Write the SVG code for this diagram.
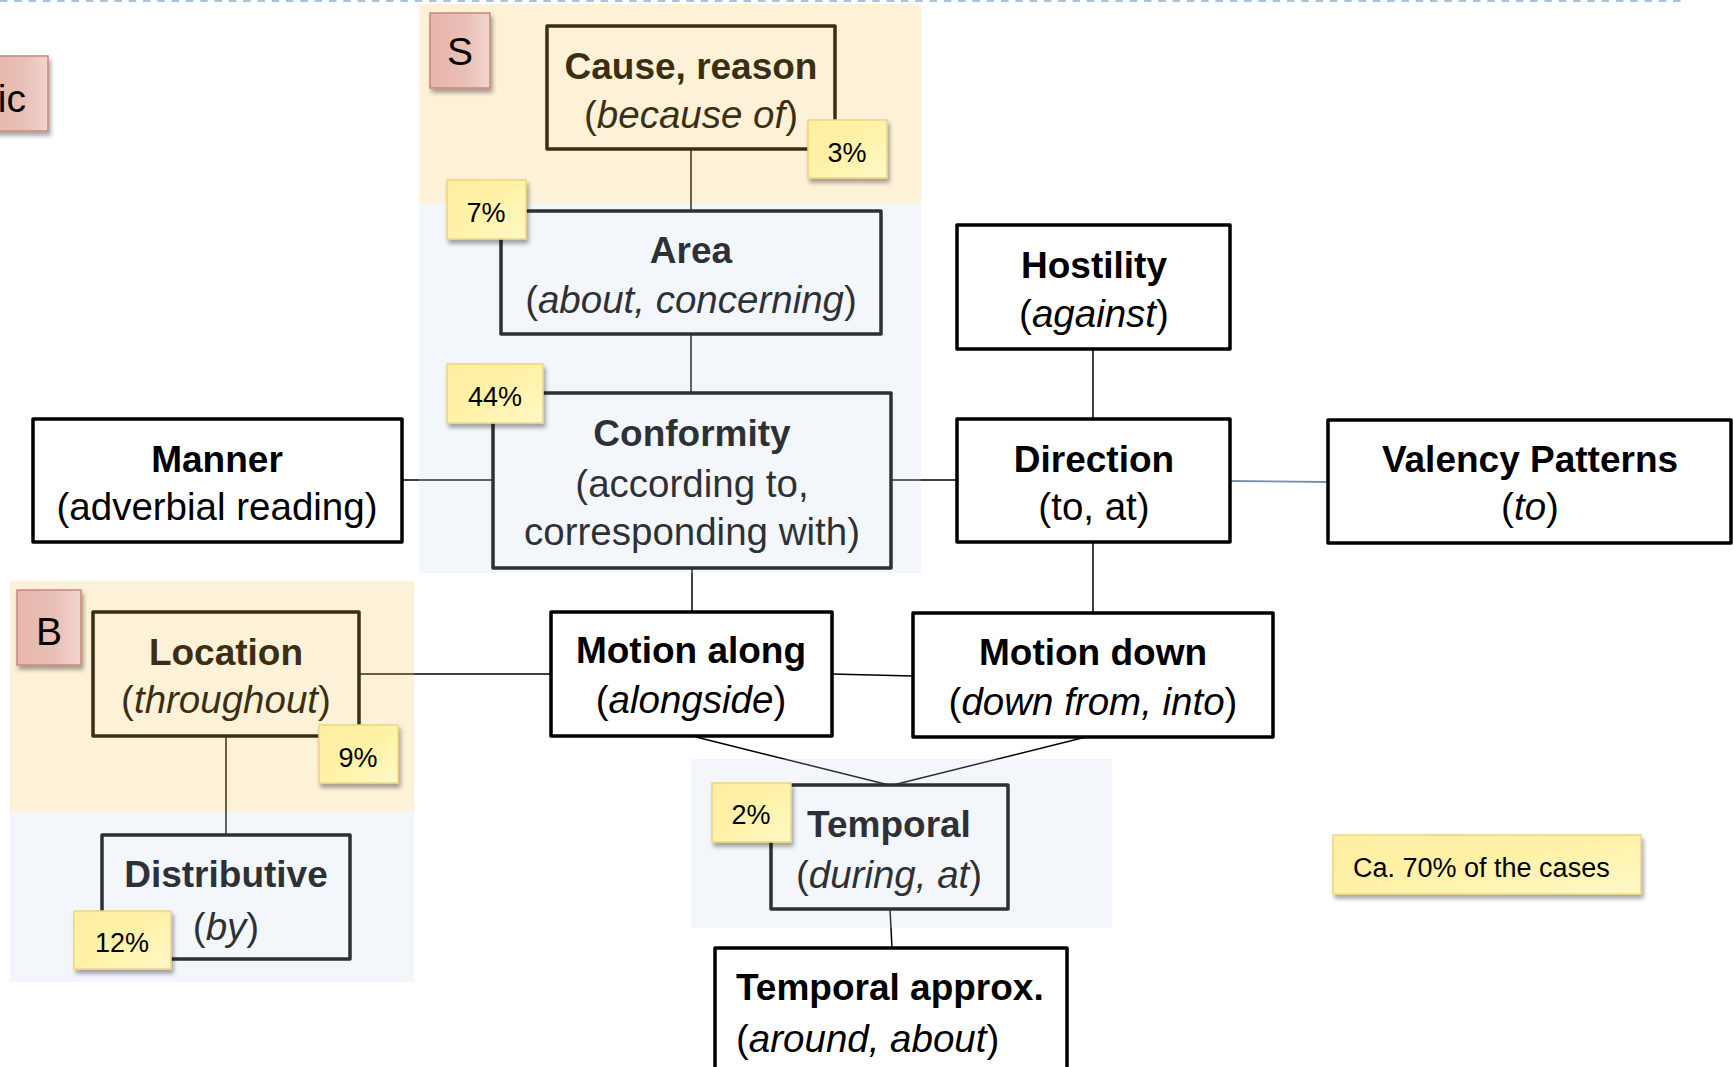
<svg xmlns="http://www.w3.org/2000/svg" width="1733" height="1067" viewBox="0 0 1733 1067">
  <defs>
    <style>
      .box { fill: #ffffff; stroke: #000000; stroke-width: 3.5; stroke-linejoin: round; }
      .edge { stroke: #000000; stroke-width: 1.5; fill: none; }
      .edge-blue { stroke: #7d8cab; stroke-width: 1.8; fill: none; }
      text { font-family: "Liberation Sans", Arial, sans-serif; fill: #000000; }
      .title { font-size: 37px; font-weight: bold; text-anchor: middle; }
      .sub { font-size: 38.5px; text-anchor: middle; }
      .it { font-style: italic; }
      .band-y { fill: #f7c855; fill-opacity: 0.235; }
      .band-b { fill: #c9dbed; fill-opacity: 0.224; }
      .note { fill: url(#noteFill); stroke: #f2d47c; stroke-width: 1.5; filter: url(#shadow); }
      .note-t { font-size: 27px; text-anchor: middle; }
      .tag { fill: url(#tagFill); stroke: #c7877c; stroke-width: 1.5; filter: url(#shadow); }
      .tag-t { font-size: 39px; text-anchor: middle; }
    </style>
    <linearGradient id="noteFill" x1="0" y1="0" x2="1" y2="1">
      <stop offset="0" stop-color="#fdf0a2"/>
      <stop offset="0.5" stop-color="#fff2a8"/>
      <stop offset="1" stop-color="#fff8c8"/>
    </linearGradient>
    <linearGradient id="tagFill" x1="0" y1="0" x2="1" y2="0">
      <stop offset="0" stop-color="#e6b6ac"/>
      <stop offset="0.6" stop-color="#e9c0b7"/>
      <stop offset="1" stop-color="#f1d5cd"/>
    </linearGradient>
    <filter id="shadow" x="-20%" y="-20%" width="150%" height="160%">
      <feDropShadow dx="2" dy="4" stdDeviation="2.2" flood-color="#000000" flood-opacity="0.35"/>
    </filter>
  </defs>

  <!-- header rule -->
  <line x1="0" y1="1" x2="1681" y2="1" stroke="#a9c2da" stroke-width="2" stroke-dasharray="7.5 6.8"/>

  <!-- connectors -->
  <g id="connectors">
    <line class="edge" x1="691" y1="149" x2="691" y2="211"/>
    <line class="edge" x1="691" y1="334" x2="691" y2="392"/>
    <line class="edge" x1="402" y1="480" x2="493" y2="480"/>
    <line class="edge" x1="891" y1="480" x2="957" y2="480"/>
    <line class="edge" x1="1093" y1="349" x2="1093" y2="419"/>
    <line class="edge-blue" x1="1230" y1="481" x2="1328" y2="482"/>
    <line class="edge" x1="692" y1="568" x2="692" y2="612"/>
    <line class="edge" x1="359" y1="674" x2="551" y2="674"/>
    <line class="edge" x1="831" y1="674" x2="913" y2="676"/>
    <line class="edge" x1="1093" y1="542" x2="1093" y2="613"/>
    <line class="edge" x1="696" y1="737" x2="889" y2="785"/>
    <line class="edge" x1="1086" y1="737" x2="893" y2="785"/>
    <line class="edge" x1="226" y1="736" x2="226" y2="835"/>
    <line class="edge" x1="890" y1="909" x2="892" y2="948"/>
  </g>

  <!-- nodes -->
  <g id="node-cause">
    <rect class="box" x="547" y="26" width="288" height="123"/>
    <text class="title" x="691" y="79">Cause, reason</text>
    <text class="sub" x="691" y="128">(<tspan class="it">because of</tspan>)</text>
  </g>
  <g id="node-area">
    <rect class="box" x="501" y="211" width="380" height="123"/>
    <text class="title" x="691" y="263">Area</text>
    <text class="sub" x="691" y="313">(<tspan class="it">about, concerning</tspan>)</text>
  </g>
  <g id="node-conformity">
    <rect class="box" x="493" y="393" width="398" height="175"/>
    <text class="title" x="692" y="446">Conformity</text>
    <text class="sub" x="692" y="497">(according to,</text>
    <text class="sub" x="692" y="545">corresponding with)</text>
  </g>
  <g id="node-manner">
    <rect class="box" x="33" y="419" width="369" height="123"/>
    <text class="title" x="217" y="472">Manner</text>
    <text class="sub" x="217" y="520">(adverbial reading)</text>
  </g>
  <g id="node-hostility">
    <rect class="box" x="957" y="225" width="273" height="124"/>
    <text class="title" x="1094" y="278">Hostility</text>
    <text class="sub" x="1094" y="327">(<tspan class="it">against</tspan>)</text>
  </g>
  <g id="node-direction">
    <rect class="box" x="957" y="419" width="273" height="123"/>
    <text class="title" x="1094" y="472">Direction</text>
    <text class="sub" x="1094" y="520">(to, at)</text>
  </g>
  <g id="node-valency">
    <rect class="box" x="1328" y="420" width="403" height="123"/>
    <text class="title" x="1530" y="472">Valency Patterns</text>
    <text class="sub" x="1530" y="520">(<tspan class="it">to</tspan>)</text>
  </g>
  <g id="node-location">
    <rect class="box" x="93" y="612" width="266" height="124"/>
    <text class="title" x="226" y="665">Location</text>
    <text class="sub" x="226" y="713">(<tspan class="it">throughout</tspan>)</text>
  </g>
  <g id="node-distributive">
    <rect class="box" x="102" y="835" width="248" height="124"/>
    <text class="title" x="226" y="887">Distributive</text>
    <text class="sub" x="226" y="940">(<tspan class="it">by</tspan>)</text>
  </g>
  <g id="node-motion-along">
    <rect class="box" x="551" y="612" width="281" height="124"/>
    <text class="title" x="691" y="663">Motion along</text>
    <text class="sub" x="691" y="713">(<tspan class="it">alongside</tspan>)</text>
  </g>
  <g id="node-motion-down">
    <rect class="box" x="913" y="613" width="360" height="124"/>
    <text class="title" x="1093" y="665">Motion down</text>
    <text class="sub" x="1093" y="715">(<tspan class="it">down from, into</tspan>)</text>
  </g>
  <g id="node-temporal">
    <rect class="box" x="771" y="785" width="237" height="124"/>
    <text class="title" x="889" y="837">Temporal</text>
    <text class="sub" x="889" y="888">(<tspan class="it">during, at</tspan>)</text>
  </g>
  <g id="node-temporal-approx">
    <rect class="box" x="715" y="948" width="352" height="140"/>
    <text class="title" x="736" y="1000" style="text-anchor:start">Temporal approx.</text>
    <text class="sub" x="736" y="1052" style="text-anchor:start">(<tspan class="it">around, about</tspan>)</text>
  </g>

  <!-- tinted group areas laid over the boxes -->
  <g id="area-s">
    <rect class="band-y" x="419" y="4" width="502" height="199"/>
    <rect class="band-b" x="419" y="203" width="502" height="370"/>
  </g>
  <g id="area-b">
    <rect class="band-y" x="10" y="581" width="404" height="231"/>
    <rect class="band-b" x="10" y="812" width="404" height="170"/>
  </g>
  <g id="area-temporal">
    <rect class="band-b" x="691" y="759" width="421" height="169"/>
  </g>

  <!-- group tags -->
  <g id="tag-ic">
    <rect class="tag" x="-10" y="56" width="58" height="75"/>
    <text class="tag-t" x="26" y="112" style="text-anchor:end">ic</text>
  </g>
  <g id="tag-s">
    <rect class="tag" x="430" y="13" width="60" height="75"/>
    <text class="tag-t" x="460" y="65">S</text>
  </g>
  <g id="tag-b">
    <rect class="tag" x="17" y="590" width="64" height="75"/>
    <text class="tag-t" x="49" y="645">B</text>
  </g>

  <!-- share notes -->
  <g id="note-3">
    <rect class="note" x="808" y="120" width="79" height="58"/>
    <text class="note-t" x="847" y="162">3%</text>
  </g>
  <g id="note-7">
    <rect class="note" x="447" y="180" width="79" height="59"/>
    <text class="note-t" x="486" y="222">7%</text>
  </g>
  <g id="note-44">
    <rect class="note" x="447" y="364" width="96" height="59"/>
    <text class="note-t" x="495" y="406">44%</text>
  </g>
  <g id="note-9">
    <rect class="note" x="319" y="725" width="79" height="58"/>
    <text class="note-t" x="358" y="767">9%</text>
  </g>
  <g id="note-12">
    <rect class="note" x="74" y="911" width="97" height="58"/>
    <text class="note-t" x="122" y="952">12%</text>
  </g>
  <g id="note-2">
    <rect class="note" x="712" y="783" width="79" height="59"/>
    <text class="note-t" x="751" y="824">2%</text>
  </g>
  <g id="note-legend">
    <rect class="note" x="1333" y="835" width="308" height="59"/>
    <text class="note-t" x="1353" y="877" style="text-anchor:start">Ca. 70% of the cases</text>
  </g>
</svg>
